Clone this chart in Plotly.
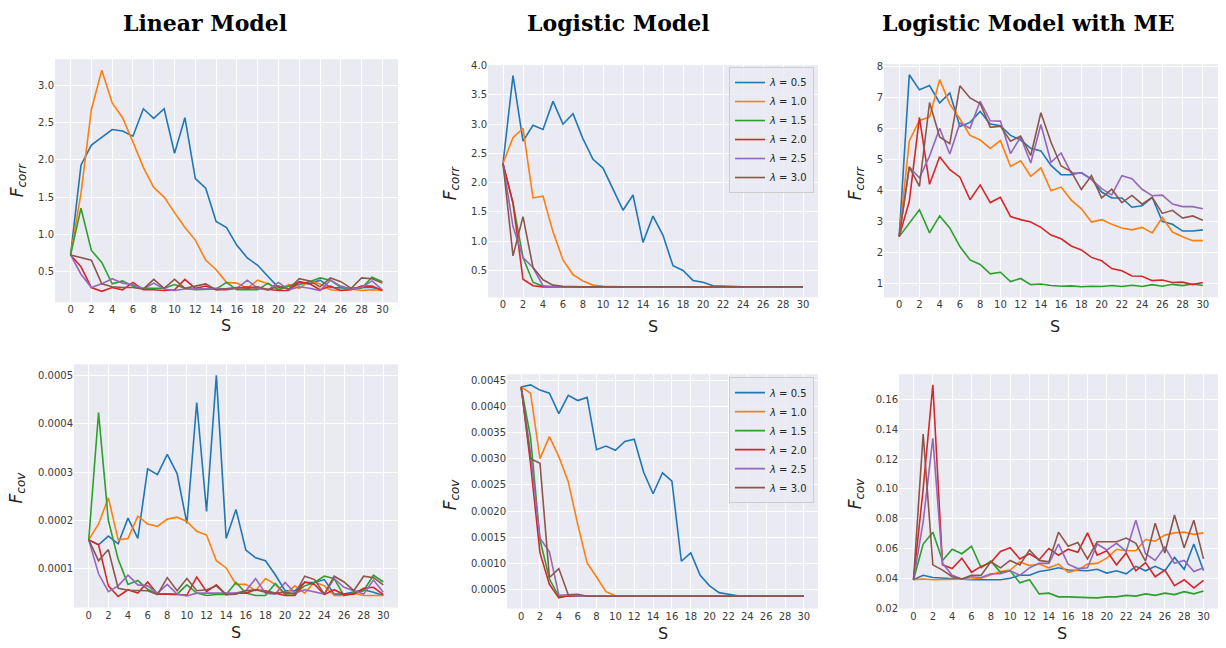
import plotly.graph_objects as go

W, H = 1226, 648
S = list(range(31))
lambda_labels = ["0.5", "1.0", "1.5", "2.0", "2.5", "3.0"]
colors = ["#1f77b4", "#ff7f0e", "#2ca02c", "#d62728", "#9467bd", "#8c564b"]
col_titles = ["Linear Model", "Logistic Model", "Logistic Model with ME"]

# ---------------- Linear model, F_corr ----------------
lin_corr_05 = [0.72,1.93,2.20,2.31,2.41,2.39,2.32,2.69,2.56,2.69,2.09,2.57,1.75,1.62,1.17,1.09,0.85,0.68,0.58,0.43,0.28,0.30,0.35,0.33,0.38,0.28,0.27,0.27,0.28,0.28,0.25]
lin_corr_10 = [0.72,1.55,2.68,3.21,2.77,2.57,2.24,1.90,1.63,1.50,1.29,1.09,0.92,0.65,0.52,0.35,0.34,0.27,0.38,0.33,0.25,0.32,0.27,0.37,0.33,0.25,0.24,0.26,0.24,0.25,0.24]
lin_corr_15 = [0.72,1.35,0.78,0.62,0.33,0.37,0.30,0.27,0.27,0.27,0.32,0.27,0.25,0.26,0.26,0.35,0.25,0.25,0.25,0.34,0.25,0.30,0.32,0.36,0.41,0.38,0.28,0.26,0.27,0.42,0.36]
lin_corr_20 = [0.72,0.56,0.28,0.23,0.28,0.25,0.35,0.25,0.25,0.24,0.25,0.39,0.27,0.30,0.25,0.25,0.27,0.29,0.27,0.25,0.24,0.24,0.36,0.33,0.25,0.30,0.24,0.25,0.30,0.30,0.24]
lin_corr_25 = [0.72,0.46,0.28,0.33,0.40,0.34,0.32,0.26,0.34,0.26,0.24,0.26,0.26,0.27,0.27,0.26,0.27,0.38,0.27,0.25,0.35,0.25,0.29,0.27,0.24,0.38,0.30,0.26,0.28,0.37,0.25]
lin_corr_30 = [0.72,0.68,0.65,0.33,0.29,0.28,0.28,0.26,0.39,0.27,0.39,0.27,0.30,0.33,0.25,0.26,0.28,0.27,0.29,0.25,0.30,0.26,0.40,0.37,0.29,0.41,0.36,0.27,0.41,0.40,0.34]

# ---------------- Logistic model, F_corr ----------------
log_corr_05 = [2.33,3.83,2.71,2.98,2.91,3.39,3.00,3.18,2.75,2.40,2.25,1.89,1.53,1.79,0.98,1.43,1.10,0.58,0.50,0.33,0.30,0.24,0.23,0.22,0.22,0.22,0.22,0.22,0.22,0.22,0.22]
log_corr_10 = [2.33,2.77,2.93,1.74,1.77,1.16,0.68,0.43,0.32,0.25,0.23,0.22,0.22,0.22,0.22,0.22,0.22,0.22,0.22,0.22,0.22,0.22,0.22,0.22,0.22,0.22,0.22,0.22,0.22,0.22,0.22]
log_corr_15 = [2.33,1.65,0.72,0.30,0.23,0.22,0.22,0.22,0.22,0.22,0.22,0.22,0.22,0.22,0.22,0.22,0.22,0.22,0.22,0.22,0.22,0.22,0.22,0.22,0.22,0.22,0.22,0.22,0.22,0.22,0.22]
log_corr_20 = [2.33,1.65,0.35,0.24,0.22,0.22,0.22,0.22,0.22,0.22,0.22,0.22,0.22,0.22,0.22,0.22,0.22,0.22,0.22,0.22,0.22,0.22,0.22,0.22,0.22,0.22,0.22,0.22,0.22,0.22,0.22]
log_corr_25 = [2.33,1.25,0.72,0.55,0.24,0.22,0.22,0.22,0.22,0.22,0.22,0.22,0.22,0.22,0.22,0.22,0.22,0.22,0.22,0.22,0.22,0.22,0.22,0.22,0.22,0.22,0.22,0.22,0.22,0.22,0.22]
log_corr_30 = [2.33,0.75,1.42,0.55,0.34,0.25,0.23,0.22,0.22,0.22,0.22,0.22,0.22,0.22,0.22,0.22,0.22,0.22,0.22,0.22,0.22,0.22,0.22,0.22,0.22,0.22,0.22,0.22,0.22,0.22,0.22]

# ---------------- Logistic model with ME, F_corr ----------------
me_corr_05 = [2.50,7.73,7.24,7.38,6.82,7.14,6.06,6.19,6.54,6.14,6.08,5.77,5.62,5.35,5.27,4.80,4.50,4.50,4.57,4.36,3.94,3.75,3.75,3.45,3.50,3.77,2.99,2.90,2.68,2.68,2.72]
me_corr_10 = [2.50,5.59,6.25,6.36,7.57,6.78,6.30,5.77,5.62,5.35,5.60,4.77,4.95,4.45,4.72,3.98,4.10,3.68,3.40,2.97,3.05,2.90,2.78,2.72,2.80,2.62,3.12,2.65,2.50,2.37,2.37]
me_corr_15 = [2.50,2.95,3.37,2.62,3.17,2.78,2.18,1.75,1.60,1.30,1.35,1.05,1.15,0.95,0.97,0.92,0.90,0.91,0.88,0.90,0.89,0.92,0.89,0.93,0.89,0.95,0.90,0.96,0.92,0.97,0.92]
me_corr_20 = [2.50,3.64,6.35,4.19,5.08,4.66,4.42,3.69,4.17,3.60,3.77,3.15,3.05,2.97,2.80,2.55,2.43,2.20,2.07,1.83,1.72,1.47,1.40,1.23,1.22,1.08,1.10,1.02,1.03,0.95,1.02]
me_corr_25 = [2.50,4.75,4.40,5.10,6.00,5.17,6.17,6.00,6.87,6.24,6.23,5.18,5.72,4.88,6.12,4.90,5.20,4.55,4.55,4.35,4.05,3.85,4.47,4.37,4.03,3.82,3.84,3.55,3.47,3.47,3.40]
me_corr_30 = [2.50,4.75,4.12,6.83,5.72,5.50,7.37,6.98,6.80,6.03,6.07,5.58,5.75,5.12,6.50,5.55,4.78,4.60,4.02,4.47,3.75,4.03,3.60,3.83,3.55,3.77,3.25,3.35,3.10,3.17,3.03]

# ---------------- Linear model, F_cov ----------------
lin_cov_05 = [1.60e-4,1.50e-4,1.68e-4,1.52e-4,2.05e-4,1.63e-4,3.07e-4,2.95e-4,3.37e-4,2.97e-4,1.94e-4,4.44e-4,2.19e-4,5.00e-4,1.63e-4,2.23e-4,1.39e-4,1.23e-4,1.17e-4,0.88e-4,0.55e-4,0.55e-4,0.72e-4,0.72e-4,0.78e-4,0.48e-4,0.48e-4,0.52e-4,0.57e-4,0.52e-4,0.45e-4]
lin_cov_10 = [1.60e-4,1.93e-4,2.47e-4,1.60e-4,1.63e-4,2.09e-4,1.93e-4,1.88e-4,2.03e-4,2.07e-4,1.98e-4,1.78e-4,1.70e-4,1.17e-4,1.02e-4,0.68e-4,0.68e-4,0.55e-4,0.80e-4,0.68e-4,0.48e-4,0.65e-4,0.50e-4,0.73e-4,0.65e-4,0.45e-4,0.45e-4,0.50e-4,0.45e-4,0.45e-4,0.45e-4]
lin_cov_15 = [1.60e-4,4.23e-4,2.00e-4,1.20e-4,0.68e-4,0.76e-4,0.58e-4,0.48e-4,0.48e-4,0.48e-4,0.67e-4,0.50e-4,0.45e-4,0.47e-4,0.47e-4,0.72e-4,0.50e-4,0.45e-4,0.45e-4,0.70e-4,0.48e-4,0.50e-4,0.65e-4,0.72e-4,0.85e-4,0.80e-4,0.45e-4,0.50e-4,0.55e-4,0.87e-4,0.73e-4]
lin_cov_20 = [1.60e-4,1.50e-4,0.65e-4,0.43e-4,0.57e-4,0.50e-4,0.73e-4,0.48e-4,0.48e-4,0.47e-4,0.46e-4,0.83e-4,0.53e-4,0.67e-4,0.47e-4,0.50e-4,0.50e-4,0.57e-4,0.55e-4,0.50e-4,0.45e-4,0.45e-4,0.73e-4,0.68e-4,0.47e-4,0.57e-4,0.47e-4,0.48e-4,0.60e-4,0.62e-4,0.47e-4]
lin_cov_25 = [1.60e-4,0.90e-4,0.53e-4,0.65e-4,0.87e-4,0.67e-4,0.65e-4,0.50e-4,0.68e-4,0.48e-4,0.44e-4,0.50e-4,0.50e-4,0.50e-4,0.50e-4,0.50e-4,0.55e-4,0.80e-4,0.50e-4,0.48e-4,0.72e-4,0.50e-4,0.57e-4,0.53e-4,0.48e-4,0.80e-4,0.62e-4,0.55e-4,0.48e-4,0.77e-4,0.52e-4]
lin_cov_30 = [1.60e-4,1.17e-4,1.40e-4,0.60e-4,0.56e-4,0.55e-4,0.55e-4,0.47e-4,0.82e-4,0.55e-4,0.80e-4,0.55e-4,0.57e-4,0.65e-4,0.47e-4,0.48e-4,0.55e-4,0.57e-4,0.52e-4,0.50e-4,0.52e-4,0.48e-4,0.85e-4,0.78e-4,0.48e-4,0.85e-4,0.73e-4,0.55e-4,0.85e-4,0.82e-4,0.67e-4]

# ---------------- Logistic model, F_cov ----------------
log_cov_05 = [0.00437,0.00441,0.00431,0.00425,0.00386,0.00421,0.00411,0.00417,0.00317,0.00324,0.00316,0.00333,0.00337,0.00274,0.00233,0.00273,0.00257,0.00104,0.00120,0.00077,0.00057,0.00044,0.00041,0.00038,0.00037,0.00037,0.00037,0.00037,0.00037,0.00037,0.00037]
log_cov_10 = [0.00437,0.00425,0.00300,0.00342,0.00304,0.00256,0.00175,0.00101,0.00074,0.00046,0.00038,0.00037,0.00037,0.00037,0.00037,0.00037,0.00037,0.00037,0.00037,0.00037,0.00037,0.00037,0.00037,0.00037,0.00037,0.00037,0.00037,0.00037,0.00037,0.00037,0.00037]
log_cov_15 = [0.00437,0.00340,0.00145,0.00070,0.00037,0.00037,0.00037,0.00037,0.00037,0.00037,0.00037,0.00037,0.00037,0.00037,0.00037,0.00037,0.00037,0.00037,0.00037,0.00037,0.00037,0.00037,0.00037,0.00037,0.00037,0.00037,0.00037,0.00037,0.00037,0.00037,0.00037]
log_cov_20 = [0.00437,0.00290,0.00120,0.00060,0.00034,0.00038,0.00037,0.00037,0.00037,0.00037,0.00037,0.00037,0.00037,0.00037,0.00037,0.00037,0.00037,0.00037,0.00037,0.00037,0.00037,0.00037,0.00037,0.00037,0.00037,0.00037,0.00037,0.00037,0.00037,0.00037,0.00037]
log_cov_25 = [0.00437,0.00310,0.00148,0.00122,0.00039,0.00040,0.00037,0.00037,0.00037,0.00037,0.00037,0.00037,0.00037,0.00037,0.00037,0.00037,0.00037,0.00037,0.00037,0.00037,0.00037,0.00037,0.00037,0.00037,0.00037,0.00037,0.00037,0.00037,0.00037,0.00037,0.00037]
log_cov_30 = [0.00437,0.00300,0.00291,0.00073,0.00090,0.00040,0.00041,0.00037,0.00037,0.00037,0.00037,0.00037,0.00037,0.00037,0.00037,0.00037,0.00037,0.00037,0.00037,0.00037,0.00037,0.00037,0.00037,0.00037,0.00037,0.00037,0.00037,0.00037,0.00037,0.00037,0.00037]

# ---------------- Logistic model with ME, F_cov ----------------
me_cov_05 = [0.039,0.042,0.0405,0.040,0.040,0.0395,0.039,0.039,0.039,0.039,0.040,0.042,0.042,0.0445,0.0455,0.047,0.0455,0.045,0.045,0.046,0.0435,0.045,0.043,0.048,0.045,0.048,0.045,0.054,0.046,0.063,0.045]
me_cov_10 = [0.039,0.0395,0.039,0.039,0.0395,0.0395,0.0395,0.040,0.0425,0.0445,0.0455,0.051,0.0485,0.0495,0.047,0.0495,0.044,0.0455,0.0495,0.050,0.0535,0.0595,0.0585,0.0585,0.066,0.065,0.069,0.0705,0.071,0.0695,0.0705]
me_cov_15 = [0.039,0.063,0.071,0.052,0.0595,0.0565,0.0615,0.047,0.0515,0.044,0.045,0.037,0.039,0.0295,0.030,0.0275,0.0275,0.027,0.027,0.0268,0.0275,0.0275,0.0285,0.028,0.0295,0.0285,0.030,0.029,0.031,0.0295,0.0315]
me_cov_20 = [0.039,0.100,0.170,0.049,0.0465,0.0535,0.044,0.048,0.0505,0.058,0.0605,0.053,0.0565,0.0525,0.060,0.0555,0.0595,0.0575,0.0705,0.0555,0.0585,0.049,0.057,0.045,0.0505,0.041,0.0455,0.035,0.039,0.0335,0.0385]
me_cov_25 = [0.039,0.078,0.134,0.050,0.042,0.0395,0.041,0.0405,0.043,0.043,0.045,0.042,0.047,0.050,0.050,0.063,0.0495,0.0465,0.047,0.063,0.059,0.0635,0.058,0.079,0.0565,0.052,0.061,0.050,0.052,0.0445,0.047]
me_cov_30 = [0.039,0.137,0.049,0.0455,0.041,0.0395,0.042,0.042,0.051,0.047,0.052,0.049,0.059,0.052,0.051,0.071,0.0615,0.064,0.053,0.0645,0.0645,0.0645,0.067,0.0635,0.0515,0.077,0.057,0.0825,0.0605,0.079,0.053]

panels = [
    dict(series=[lin_corr_05, lin_corr_10, lin_corr_15, lin_corr_20, lin_corr_25, lin_corr_30],
         box=(55, 55, 398, 302), ylab="corr", ticks=[0.5, 1.0, 1.5, 2.0, 2.5, 3.0], fmt=".1f",
         ylabpos=(18, 178), xlabpos=(226, 326), legend=None),
    dict(series=[log_corr_05, log_corr_10, log_corr_15, log_corr_20, log_corr_25, log_corr_30],
         box=(488, 61, 818, 297), ylab="corr", ticks=[0.5, 1.0, 1.5, 2.0, 2.5, 3.0, 3.5, 4.0], fmt=".1f",
         ylabpos=(451, 181), xlabpos=(653, 327), legend="legend"),
    dict(series=[me_corr_05, me_corr_10, me_corr_15, me_corr_20, me_corr_25, me_corr_30],
         box=(884, 60, 1218, 297), ylab="corr", ticks=[1, 2, 3, 4, 5, 6, 7, 8], fmt="d",
         ylabpos=(856, 181), xlabpos=(1055, 327), legend=None),
    dict(series=[lin_cov_05, lin_cov_10, lin_cov_15, lin_cov_20, lin_cov_25, lin_cov_30],
         box=(74, 365, 398, 612), ylab="cov", ticks=[0.0001, 0.0002, 0.0003, 0.0004, 0.0005], fmt=".4f",
         ylabpos=(17, 490), xlabpos=(236, 637), legend=None),
    dict(series=[log_cov_05, log_cov_10, log_cov_15, log_cov_20, log_cov_25, log_cov_30],
         box=(507, 375, 818, 613), ylab="cov", ticks=[0.0005, 0.0010, 0.0015, 0.0020, 0.0025, 0.0030, 0.0035, 0.0040, 0.0045], fmt=".4f",
         ylabpos=(451, 497), xlabpos=(663, 638), legend="legend2"),
    dict(series=[me_cov_05, me_cov_10, me_cov_15, me_cov_20, me_cov_25, me_cov_30],
         box=(899, 375, 1218, 613), ylab="cov", ticks=[0.02, 0.04, 0.06, 0.08, 0.10, 0.12, 0.14, 0.16], fmt=".2f",
         ylabpos=(856, 496), xlabpos=(1062, 638), legend=None),
]

fig = go.Figure()
annotations = []
tick_font = dict(family="DejaVu Sans", size=10, color="#3a3a3a")

for i, p in enumerate(panels, start=1):
    xa = "x" if i == 1 else f"x{i}"
    ya = "y" if i == 1 else f"y{i}"
    for k, ser in enumerate(p["series"]):
        fig.add_trace(go.Scatter(
            x=S, y=ser, mode="lines", xaxis=xa, yaxis=ya,
            line=dict(color=colors[k], width=1.6),
            name=f"<i>λ</i> = {lambda_labels[k]}",
            showlegend=p["legend"] is not None,
            legend=p["legend"] if p["legend"] else "legend",
        ))
    allv = [v for ser in p["series"] for v in ser]
    lo, hi = min(allv), max(allv)
    pad = 0.05 * (hi - lo)
    x0, y0, x1, y1 = p["box"]
    xkey = "xaxis" if i == 1 else f"xaxis{i}"
    ykey = "yaxis" if i == 1 else f"yaxis{i}"
    fig.update_layout({
        xkey: dict(domain=[x0 / W, x1 / W], anchor=ya, range=[-1.5, 31.5],
                   tickvals=list(range(0, 31, 2)), showgrid=True, gridcolor="white", gridwidth=1,
                   zeroline=False, showline=False, ticks="", tickfont=tick_font),
        ykey: dict(domain=[1 - y1 / H, 1 - y0 / H], anchor=xa, range=[lo - pad, hi + pad],
                   tickvals=p["ticks"], tickformat=p["fmt"], showgrid=True, gridcolor="white", gridwidth=1,
                   zeroline=False, showline=False, ticks="", tickfont=tick_font),
    })
    annotations.append(dict(
        text=f"<i>F</i><sub><i>{p['ylab']}</i></sub>", x=p["ylabpos"][0] / W, y=1 - p["ylabpos"][1] / H,
        xref="paper", yref="paper", showarrow=False, textangle=-90,
        font=dict(family="DejaVu Sans", size=17, color="#222222"), xanchor="center", yanchor="middle"))
    annotations.append(dict(
        text="S", x=p["xlabpos"][0] / W, y=1 - p["xlabpos"][1] / H,
        xref="paper", yref="paper", showarrow=False,
        font=dict(family="DejaVu Sans", size=16, color="#222222"), xanchor="center", yanchor="middle"))

title_pos = [(205, 18), (618, 18), (1028, 18)]
for t, (tx, ty) in zip(col_titles, title_pos):
    annotations.append(dict(
        text=f"<b>{t}</b>", x=tx / W, y=1 - ty / H, xref="paper", yref="paper", showarrow=False,
        font=dict(family="DejaVu Serif", size=22, color="black"), xanchor="center", yanchor="middle"))

legend_style = dict(
    bgcolor="rgba(234,234,242,0.85)", bordercolor="#cccccc", borderwidth=1,
    font=dict(family="DejaVu Sans", size=10, color="#262626"),
    xref="paper", yref="paper", xanchor="right", yanchor="top", tracegroupgap=0,
)
fig.update_layout(
    width=W, height=H, margin=dict(l=0, r=0, t=0, b=0),
    paper_bgcolor="white", plot_bgcolor="#EAEAF2",
    annotations=annotations,
    legend=dict(x=814 / W, y=1 - 63 / H, **legend_style),
    legend2=dict(x=814 / W, y=1 - 378 / H, **legend_style),
)

fig.write_html("out.html")
